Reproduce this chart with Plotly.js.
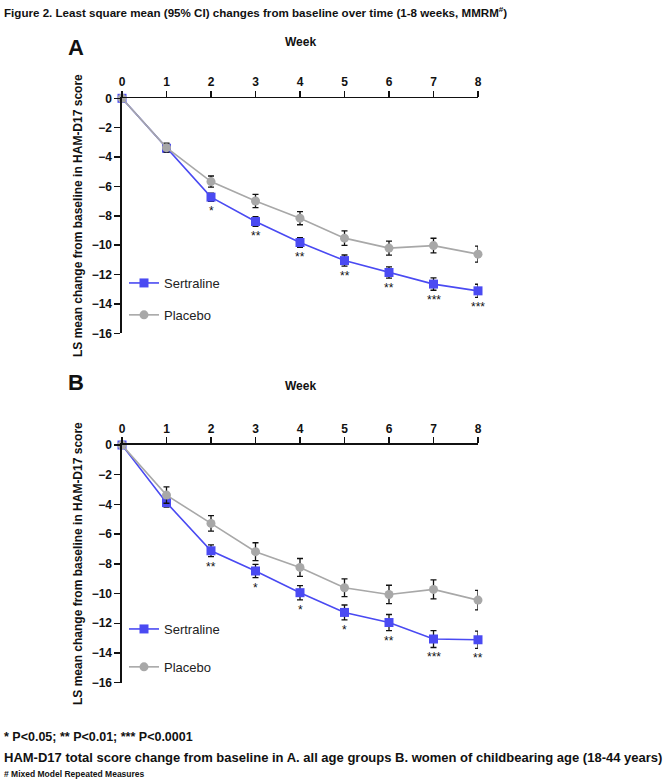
<!DOCTYPE html>
<html>
<head>
<meta charset="utf-8">
<script src="https://cdn.plot.ly/plotly-3.0.1.min.js"></script>
<style>
  html, body { margin: 0; padding: 0; background: #fff; }
  #chart { width: 670px; height: 781px; }
</style>
</head>
<body>
<div id="chart"></div>
<script>
// Weeks of treatment
const weeks = [0, 1, 2, 3, 4, 5, 6, 7, 8];
const weekTicks = ['0', '1', '2', '3', '4', '5', '6', '7', '8'];
const scoreTicks = [0, -2, -4, -6, -8, -10, -12, -14, -16];

// Panel A: all age groups (LS mean change and 95% CI half-width)
const sertA    = [0, -3.40, -6.73, -8.39, -9.82, -11.05, -11.86, -12.65, -13.11];
const sertACi  = [0, 0.25, 0.28, 0.33, 0.33, 0.38, 0.38, 0.42, 0.45];
const placA    = [0, -3.36, -5.67, -6.99, -8.16, -9.52, -10.20, -10.03, -10.61];
const placACi  = [0, 0.30, 0.38, 0.45, 0.45, 0.50, 0.48, 0.50, 0.55];
const sigA     = ['', '', '*', '**', '**', '**', '**', '***', '***'];

// Panel B: women of childbearing age (18-44 years)
const sertB    = [0, -3.88, -7.12, -8.48, -9.94, -11.27, -11.95, -13.06, -13.11];
const sertBCi  = [0, 0.30, 0.40, 0.45, 0.48, 0.50, 0.54, 0.57, 0.58];
const placB    = [0, -3.37, -5.28, -7.18, -8.24, -9.61, -10.06, -9.72, -10.44];
const placBCi  = [0, 0.55, 0.52, 0.60, 0.60, 0.60, 0.62, 0.64, 0.66];
const sigB     = ['', '', '**', '*', '*', '*', '**', '***', '**'];

const W = 670, H = 781;
const px = x => x / W;
const py = y => 1 - y / H;

const BLUE = '#4a4af2';
const GREY = '#a8a8a8';
const FONT = 'Liberation Sans, Arial, sans-serif';

function series(x, y, ci, name, color, symbol, xa, ya, legend) {
  return {
    x: x, y: y, name: name, type: 'scatter', mode: 'lines+markers',
    xaxis: xa, yaxis: ya, legend: legend, showlegend: true,
    legendgroup: name,
    cliponaxis: false,
    line: { color: color, width: 1.6 },
    marker: { color: color, symbol: symbol, size: 9 },
    error_y: { type: 'data', array: ci, visible: true, color: '#111', thickness: 1.3, width: 3 }
  };
}

const traces = [
  series(weeks, sertA, sertACi, 'Sertraline', BLUE, 'square', 'x', 'y', 'legend'),
  series(weeks, placA, placACi, 'Placebo', GREY, 'circle', 'x', 'y', 'legend'),
  series(weeks, sertB, sertBCi, 'Sertraline', BLUE, 'square', 'x2', 'y2', 'legend2'),
  series(weeks, placB, placBCi, 'Placebo', GREY, 'circle', 'x2', 'y2', 'legend2')
];

const annotations = [];

// Significance markers under the sertraline error bars
function addStars(sig, vals, ci, xref, yref) {
  sig.forEach((s, i) => {
    if (!s) return;
    annotations.push({
      x: weeks[i], y: vals[i] - ci[i], xref: xref, yref: yref,
      text: s, showarrow: false, xanchor: 'center', yanchor: 'top', yshift: -1,
      font: { family: FONT, size: 12, color: '#111' }
    });
  });
}
addStars(sigA, sertA, sertACi, 'x', 'y');
addStars(sigB, sertB, sertBCi, 'x2', 'y2');

function textAt(x, y, text, size, opts) {
  annotations.push(Object.assign({
    x: px(x), y: py(y), xref: 'paper', yref: 'paper', text: text,
    showarrow: false, xanchor: 'center', yanchor: 'middle',
    font: { family: FONT, size: size, color: '#111', weight: 'bold' }
  }, opts || {}));
}

// Figure title and panel labels
textAt(2, 12, 'Figure 2. Least square mean (95% CI) changes from baseline over time (1-8 weeks, MMRM<sup>#</sup>)', 11.6,
  { xanchor: 'left' });
textAt(76, 47, 'A', 22);
textAt(76, 382, 'B', 22);
textAt(300, 42, 'Week', 12);
textAt(300, 386, 'Week', 12);

// Y-axis titles
textAt(78, 216, 'LS mean change from baseline in HAM-D17 score', 12, { textangle: -90 });
textAt(78, 564, 'LS mean change from baseline in HAM-D17 score', 12, { textangle: -90 });

// Footnotes
textAt(2, 737, '* P&lt;0.05; ** P&lt;0.01; *** P&lt;0.0001', 12.5, { xanchor: 'left' });
textAt(2, 757, 'HAM-D17 total score change from baseline in A. all age groups B. women of childbearing age (18-44 years)', 13,
  { xanchor: 'left' });
textAt(2, 774, '# Mixed Model Repeated Measures', 8.5, { xanchor: 'left' });

function xAxis(anchor) {
  return {
    domain: [px(122), px(478)], range: [0, 8], anchor: anchor, side: 'top',
    tickvals: weeks, ticktext: weekTicks, ticks: 'outside', ticklen: 6, tickwidth: 1.5,
    tickcolor: '#111', showline: true, linecolor: '#111', linewidth: 1.6,
    showgrid: false, zeroline: false, fixedrange: true,
    tickfont: { family: FONT, size: 12, color: '#111', weight: 'bold' }
  };
}
function yAxis(anchor, top, bottom) {
  return {
    domain: [py(bottom), py(top)], range: [-16, 0], anchor: anchor,
    tickvals: scoreTicks, ticks: 'outside', ticklen: 6, tickwidth: 1.5,
    tickcolor: '#111', showline: true, linecolor: '#111', linewidth: 1.6,
    showgrid: false, zeroline: false, fixedrange: true,
    tickfont: { family: FONT, size: 12, color: '#111', weight: 'bold' }
  };
}

function legendAt(y, gap) {
  return {
    x: px(124), y: py(y), xanchor: 'left', yanchor: 'top',
    bgcolor: 'rgba(0,0,0,0)', borderwidth: 0,
    traceorder: 'grouped', tracegroupgap: gap,
    font: { family: FONT, size: 13, color: '#222' }
  };
}

const layout = {
  width: W, height: H,
  margin: { l: 0, r: 0, t: 0, b: 0 },
  paper_bgcolor: '#fff', plot_bgcolor: '#fff',
  showlegend: true,
  xaxis: xAxis('y'),
  yaxis: yAxis('x', 98.3, 333.3),
  xaxis2: xAxis('y2'),
  yaxis2: yAxis('x2', 445, 682.7),
  legend: legendAt(268, 12),
  legend2: legendAt(614, 18),
  annotations: annotations
};

Plotly.newPlot('chart', traces, layout, { displayModeBar: false, staticPlot: true });
</script>
</body>
</html>
